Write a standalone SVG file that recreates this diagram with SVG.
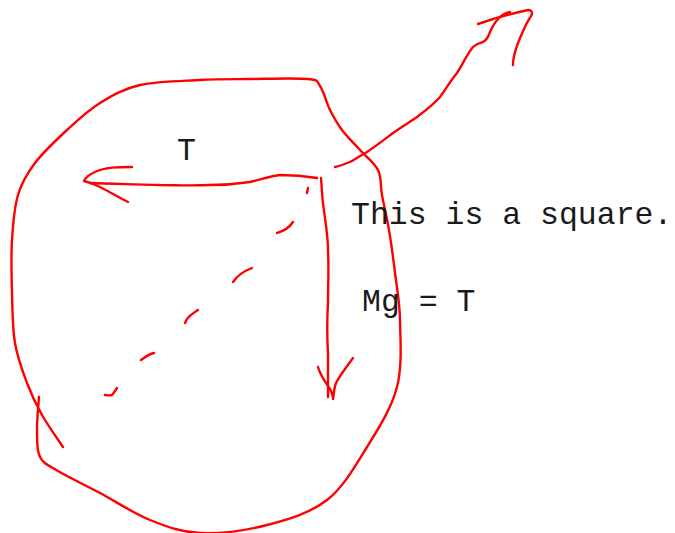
<svg xmlns="http://www.w3.org/2000/svg" width="675" height="533" viewBox="0 0 675 533">
<style>
.s{fill:none;stroke:#ff0000;stroke-width:2.4;stroke-linecap:round;stroke-linejoin:round}
.t{font-family:"Liberation Mono","Courier New",monospace;font-size:31.5px;fill:#1a1a1a}
</style>
<rect width="675" height="533" fill="#ffffff"/>
<g id="connectors">
<path id="loop" class="s" d="M39,397 C38.7,402.5 36.8,420 37,430 C37.2,440 36.5,450.2 40,457 C43.5,463.8 48,465 58,471 C68,477 84.7,484.8 100,493 C115.3,501.2 133.3,513.3 150,520 C166.7,526.7 180.5,532.2 200,533 C219.5,533.8 245.8,530.5 267,525 C288.2,519.5 310.3,513 327,500 C343.7,487 355.3,465.8 367,447 C378.7,428.2 391.5,408.2 397,387 C402.5,365.8 400.3,339 400,320 C399.7,301 396.8,288 395,273 C393.2,258 391.2,243 389,230 C386.8,217 383.8,205 382,195 C380.2,185 381.7,177.5 378,170 C374.3,162.5 366,156.7 360,150 C354,143.3 347,136.7 342,130 C337,123.3 333.7,117.3 330,110 C326.3,102.7 323.7,91.2 320,86 C316.3,80.8 319.7,80.2 308,79 C296.3,77.8 268,78.8 250,79 C232,79.2 218.3,79 200,80 C181.7,81 156.7,81.2 140,85 C123.3,88.8 112.2,95.5 100,103 C87.8,110.5 77.8,120 67,130 C56.2,140 43.2,152.2 35,163 C26.8,173.8 21.8,182.2 18,195 C14.2,207.8 13,223.7 12,240 C11,256.3 11.5,275.8 12,293 C12.5,310.2 12.5,328 15,343 C17.5,358 22.5,371 27,383 C31.5,395 36,404.3 42,415 C48,425.7 59.5,441.7 63,447"/>
<path id="up-line" class="s" d="M335,167 C340,166 345,164 350,162 C356,159 361,155 367,152 C376,146 385,139 393,133 C401,127 410,122 417,117 C425,111 433,105 440,97 C446,89 451,80 457,73 C463,64 467,54 473,47 C477,43 480,43 483,42 C487,40 488,37 490,32 C492,27 494,23 500,17 C503,14 506,13 510,12"/>
<path id="up-head" class="s" d="M478,24 C492,19 510,14 528,10 C532,10 533,13 531,16 C528,21 526,24 524,29 C521,36 518,42 516,49 C514,55 513,60 513,65"/>
<path id="t-shaft" class="s" d="M317,178 C305,176 290,175 280,175 C270,176 260,180 250,182 C237,184 225,185 210,185 C190,186 175,185 160,185 C130,184 110,184 90,183"/>
<path id="t-head" class="s" d="M132,167 C118,167 105,167 95,172 C90,174 86,177 84,181 C88,182 94,184 100,187 C110,192 118,197 128,202"/>
<path id="mg-shaft" class="s" d="M321,178 C322,190 322,196 323,203 C325,220 328,235 328,250 C329,270 328,285 328,303 C327,320 327,337 328,353 C328,370 328,385 328,397"/>
<path id="mg-head" class="s" d="M318,367 C320,375 326,383 330,389 C332,393 333,396 333,399 C334,393 334,388 336,383 C340,375 347,366 353,358"/>
<g id="dashes">
<path class="s" d="M308,188 C308,190 307,191 307,193"/>
<path class="s" d="M293,222 C289,228 284,231 277,233"/>
<path class="s" d="M252,268 C244,271 237,276 233,282"/>
<path class="s" d="M198,310 C192,314 187,317 185,323"/>
<path class="s" d="M154,353 C149,354 145,357 141,360"/>
<path class="s" d="M117,388 C115,391 114,393 112,395 C109,396 107,395 105,395"/>
</g>
</g>
<g id="label-t"><text class="t" x="177" y="160">T</text></g>
<g id="label-square"><text class="t" x="351" y="224">This is a square.</text></g>
<g id="label-mg"><text class="t" x="362" y="311">Mg = T</text></g>
</svg>
